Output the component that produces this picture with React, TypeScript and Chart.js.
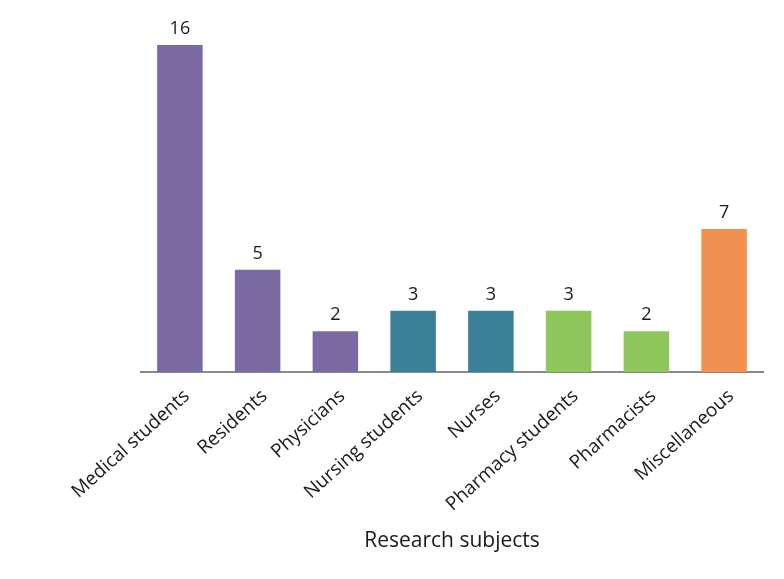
import React, { useEffect, useRef } from "react";
import { Chart, registerables } from "chart.js";

Chart.register(...registerables);

const categories = [
  "Medical students",
  "Residents",
  "Physicians",
  "Nursing students",
  "Nurses",
  "Pharmacy students",
  "Pharmacists",
  "Miscellaneous",
];
const counts = [16, 5, 2, 3, 3, 3, 2, 7];
const barColors = [
  "#7b6aa1",
  "#7b6aa1",
  "#7b6aa1",
  "#3b8096",
  "#3b8096",
  "#8dc75c",
  "#8dc75c",
  "#f09152",
];
const axisTitle = "Research subjects";

const FONT = "'Open Sans', 'Noto Sans', sans-serif";

const valueLabels = {
  id: "valueLabels",
  afterDatasetsDraw(chart: any) {
    const ctx = chart.ctx;
    const meta = chart.getDatasetMeta(0);
    ctx.save();
    ctx.font = `18px ${FONT}`;
    ctx.fillStyle = "#1a1a1a";
    ctx.textAlign = "center";
    ctx.textBaseline = "alphabetic";
    meta.data.forEach((bar: any, i: number) => {
      ctx.fillText(String(counts[i]), bar.x, bar.y - 11);
    });
    ctx.restore();
  },
};

export default function App() {
  const ref = useRef<HTMLCanvasElement | null>(null);
  useEffect(() => {
    if (!ref.current) return;
    const chart = new Chart(ref.current, {
      type: "bar",
      data: {
        labels: categories,
        datasets: [
          {
            data: counts,
            backgroundColor: barColors,
            borderWidth: 0,
            categoryPercentage: 1,
            barPercentage: 0.585,
          },
        ],
      },
      options: {
        responsive: false,
        animation: false,
        events: [],
        layout: { padding: { left: 141, right: 21, top: 45, bottom: 0 } },
        plugins: {
          legend: { display: false },
          tooltip: { enabled: false },
        },
        scales: {
          x: {
            grid: { display: false },
            border: { display: true, color: "#8a8a8a", width: 2 },
            ticks: {
              minRotation: 42,
              maxRotation: 42,
              autoSkip: false,
              padding: 5,
              labelOffset: 7,
              color: "#1a1a1a",
              font: { family: FONT, size: 19 },
            },
            title: {
              display: true,
              text: axisTitle,
              color: "#1a1a1a",
              font: { family: FONT, size: 21 },
              padding: { top: 0, bottom: 25 },
            },
            afterFit(scale: any) {
              scale.height = 207;
            },
          },
          y: {
            display: false,
            min: 0,
            max: 16,
          },
        },
      },
      plugins: [valueLabels],
    });
    return () => chart.destroy();
  }, []);
  return (
    <canvas
      ref={ref}
      width={784}
      height={579}
      style={{ position: "absolute", left: 0, top: 0, width: 784, height: 579 }}
    />
  );
}
